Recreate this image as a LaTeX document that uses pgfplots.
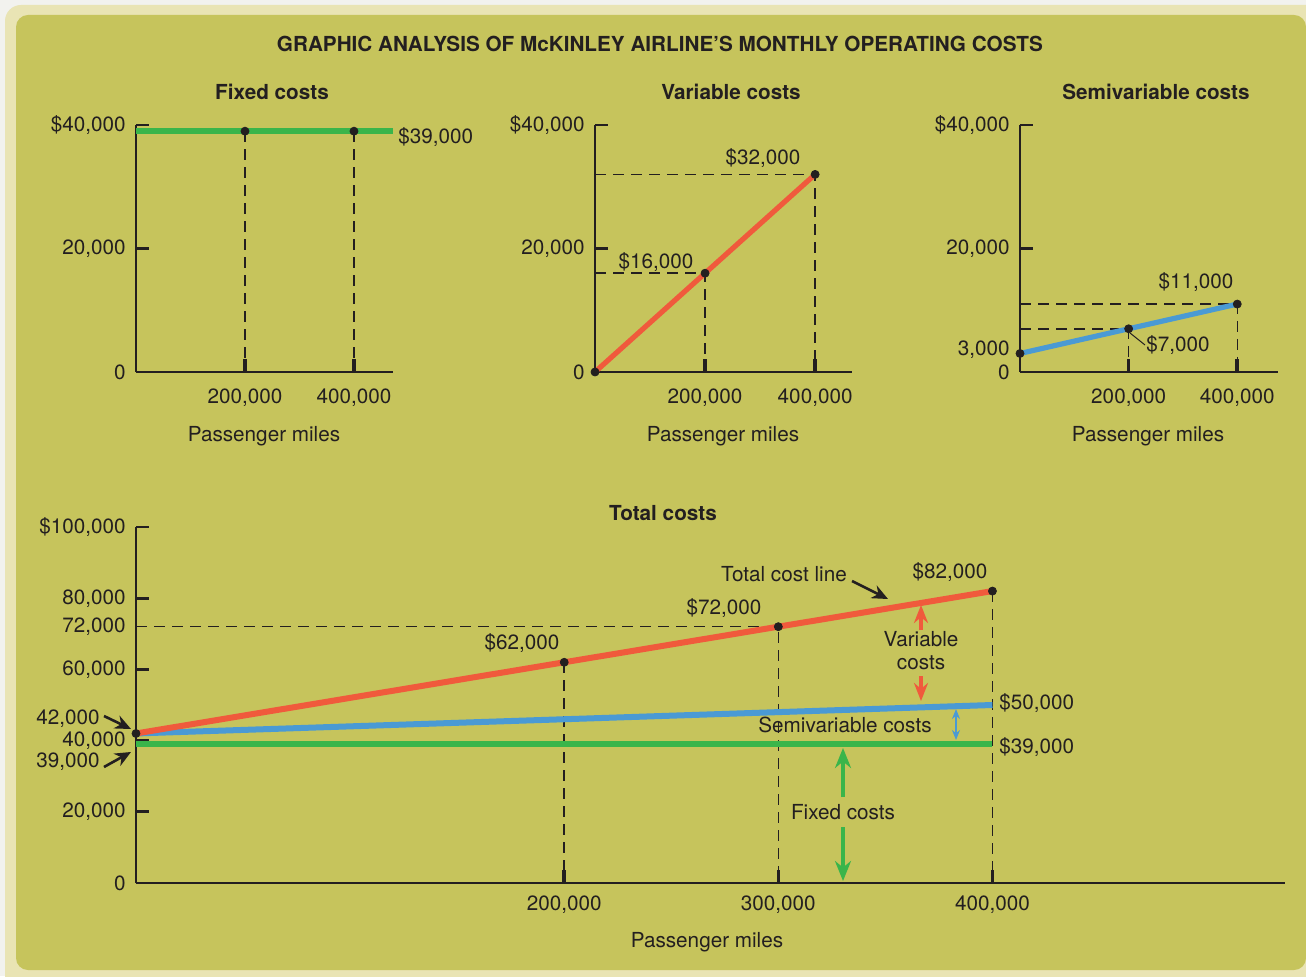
\documentclass[border=0pt]{standalone}
\usepackage{fontspec}
\setmainfont{TeX Gyre Heros}
\usepackage{pgfplots}
\pgfplotsset{compat=1.18}
\usetikzlibrary{arrows.meta}
\definecolor{olive}{HTML}{C6C45C}
\definecolor{pale}{HTML}{E9E4B4}
\definecolor{outer}{HTML}{F2F2EE}
\definecolor{ink}{HTML}{231F20}
\definecolor{cgreen}{HTML}{3AB54A}
\definecolor{cred}{HTML}{F05A3C}
\definecolor{cblue}{HTML}{4A9AD4}
\newcommand\F{\fontsize{10.35pt}{12.4pt}\selectfont}
\pgfplotsset{cost/.style={
  axis lines=left, axis line style={-, line width=1.4pt, color=ink},
  scale only axis, anchor=south west, clip=false,
  scaled ticks=false,
  tick align=inside, major tick length=6.5pt,
  xtick style={line width=1.8pt, color=ink},
  ytick style={line width=1.4pt, color=ink},
  tick label style={font=\F, text=ink},
  yticklabel style={xshift=-1.5pt},
  xticklabel style={yshift=-5pt},
  xmin=0, ymin=0},
  dash/.style={ink, line width=0.75pt, dash pattern=on 5.5pt off 3.5pt},
  dots/.style={only marks, mark=*, mark size=2pt, color=ink},
}
\begin{document}
\F
\begin{tikzpicture}
\useasboundingbox (0,0) rectangle (653pt,488pt);
\fill[outer] (0,0) rectangle (653pt,488pt);
\fill[pale, rounded corners=8pt] (2.5pt,-10pt) rectangle (670pt,485.5pt);
\fill[olive, rounded corners=6pt] (8pt,3pt) rectangle (653pt,480.5pt);

% Fixed costs
\begin{axis}[cost, at={(68pt,302pt)}, width=128.5pt, height=123.5pt,
  xmax=471600, ymax=40000,
  xtick={200000,400000}, xticklabels={{200,000},{400,000}},
  ytick={0,20000,40000}, yticklabels={0,{20,000},{\$40,000}}]
  \addplot[cgreen, line width=3pt] coordinates {(0,39000) (471600,39000)};
  \addplot[dash] coordinates {(200000,39000) (200000,0)};
  \addplot[dash] coordinates {(400000,39000) (400000,0)};
  \addplot[dots] coordinates {(200000,39000) (400000,39000)};
\end{axis}

% Variable costs
\begin{axis}[cost, at={(297.5pt,302pt)}, width=128.5pt, height=123.5pt,
  xmax=467000, ymax=40000,
  xtick={200000,400000}, xticklabels={{200,000},{400,000}},
  ytick={0,20000,40000}, yticklabels={0,{20,000},{\$40,000}}]
  \addplot[dash] coordinates {(0,32000) (400000,32000) (400000,0)};
  \addplot[dash] coordinates {(0,16000) (200000,16000) (200000,0)};
  \addplot[cred, line width=2.6pt] coordinates {(0,0) (200000,16000) (400000,32000)};
  \addplot[dots] coordinates {(0,0) (200000,16000) (400000,32000)};
\end{axis}

% Semivariable costs
\begin{axis}[cost, at={(510pt,302pt)}, width=129pt, height=123.5pt,
  xmax=475000, ymax=40000,
  xtick={200000,400000}, xticklabels={{200,000},{400,000}},
  ytick={0,20000,40000}, yticklabels={0,{20,000},{\$40,000}},
  extra y ticks={3000}, extra y tick labels={3{,}000},
  extra y tick style={major tick length=0pt, yticklabel style={yshift=2pt}}]
  \addplot[dash] coordinates {(0,11000) (400000,11000) (400000,0)};
  \addplot[dash] coordinates {(0,7000) (200000,7000) (200000,0)};
  \addplot[cblue, line width=2.6pt] coordinates {(0,3000) (200000,7000) (400000,11000)};
  \addplot[dots] coordinates {(0,3000) (200000,7000) (400000,11000)};
\end{axis}

% Total costs
\begin{axis}[cost, at={(68pt,46.5pt)}, width=574.5pt, height=178pt,
  xmax=536650, ymax=100000,
  xticklabel style={yshift=2pt},
  xtick={200000,300000,400000}, xticklabels={{200,000},{300,000},{400,000}},
  ytick={0,20000,40000,60000,80000,100000},
  yticklabels={0,{20,000},{40,000},{60,000},{80,000},{\$100,000}},
  extra y ticks={72000}, extra y tick labels={72{,}000},
  extra y tick style={major tick length=0pt}]
  \addplot[dash] coordinates {(0,72000) (300000,72000) (300000,0)};
  \addplot[dash] coordinates {(200000,62000) (200000,0)};
  \addplot[dash] coordinates {(400000,82000) (400000,0)};
  \addplot[cgreen, line width=3pt] coordinates {(0,39000) (400000,39000)};
  \addplot[cblue, line width=3pt] coordinates {(0,42000) (400000,50000)};
  \addplot[cred, line width=3pt] coordinates {(0,42000) (200000,62000) (300000,72000) (400000,82000)};
  \addplot[dots] coordinates {(0,42000) (200000,62000) (300000,72000) (400000,82000)};
\end{axis}

\begin{scope}[x=0.5pt, y=-0.5pt, shift={(0pt,488pt)}, every node/.style={inner sep=0pt, text=ink, font=\F}]
  \node at (660,44) {\bfseries GRAPHIC ANALYSIS OF McKINLEY AIRLINE’S MONTHLY OPERATING COSTS};
  \node at (272,92) {\bfseries Fixed costs};
  \node at (731,92) {\bfseries Variable costs};
  \node at (1156,92) {\bfseries Semivariable costs};
  \node at (663,513) {\bfseries Total costs};
  \node at (264,436) {Passenger miles};
  \node at (723,436) {Passenger miles};
  \node at (1148,436) {Passenger miles};
  \node at (707,942) {Passenger miles};
  % small charts
  \node[anchor=west] at (398,137) {\$39,000};
  \node at (763,158) {\$32,000};
  \node at (656,262) {\$16,000};
  \node at (1196,282) {\$11,000};
  \node at (1178,345) {\$7,000};
  \draw[ink, line width=0.5pt] (1130,333) -- (1145,345);
  % total chart
  \node at (522,643) {\$62,000};
  \node at (724,608) {\$72,000};
  \node at (950,572) {\$82,000};
  \node at (784,574) {Total cost line};
  \draw[ink, line width=1.3pt, -{Stealth[length=8pt,width=7pt]}] (852,581) -- (888,599);
  \node at (921,639) {Variable};
  \node at (921,663) {costs};
  \draw[cred, line width=1.6pt, -{Stealth[length=9pt,width=7pt]}] (921,630) -- (921,605);
  \draw[cred, line width=1.6pt, -{Stealth[length=9pt,width=7pt]}] (921,676) -- (921,701);
  \node[anchor=west] at (999,703) {\$50,000};
  \node[anchor=west] at (999,747) {\$39,000};
  \node at (845,725) {Semivariable costs};
  \draw[cblue, line width=0.7pt, {Stealth[length=5pt,width=4pt]}-{Stealth[length=5pt,width=4pt]}] (956,709) -- (956,740);
  \node at (843,812) {Fixed costs};
  \draw[cgreen, line width=1.6pt, -{Stealth[length=10pt,width=8pt]}] (843,797) -- (843,748);
  \draw[cgreen, line width=1.6pt, -{Stealth[length=10pt,width=8pt]}] (843,827) -- (843,881);
  \node[anchor=east] at (100,719) {42,000};
  \node[anchor=east] at (100,762) {39,000};
  \draw[ink, line width=1.3pt, -{Stealth[length=8pt,width=7pt]}] (104,716) -- (131,729);
  \draw[ink, line width=1.3pt, -{Stealth[length=8pt,width=7pt]}] (104,767) -- (131,752);
\end{scope}
\end{tikzpicture}
\end{document}
